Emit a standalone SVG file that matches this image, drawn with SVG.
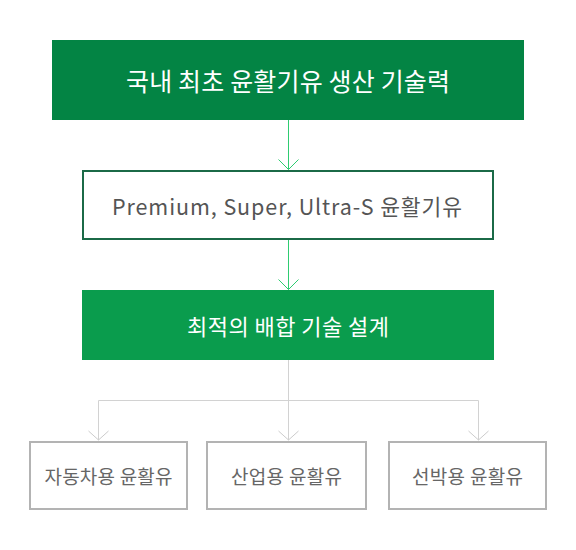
<svg xmlns="http://www.w3.org/2000/svg" width="576" height="550" viewBox="0 0 576 550">
<style>
text{font-family:"Noto Sans CJK KR","Noto Sans",sans-serif;text-anchor:middle;dominant-baseline:central}
.t1{font-size:25px;fill:#ffffff}
.t2{font-size:21.5px;fill:#555555}
.t3{font-size:22px;fill:#ffffff}
.t4{font-size:19px;fill:#666666}
.leaf{fill:#ffffff;stroke:#b3b3b3;stroke-width:2}
.gl{stroke:#2ecc71;stroke-width:1;fill:none}
.gr{stroke:#d2d2d2;stroke-width:1;fill:none}
</style>
<defs>
<marker id="ag" markerWidth="24" markerHeight="24" refX="12" refY="12" orient="auto" markerUnits="userSpaceOnUse" viewBox="0 0 24 24">
<path d="M2,2 L12,12 L2,22" fill="none" stroke="#2ecc71" stroke-width="1"/>
</marker>
<marker id="ar" markerWidth="24" markerHeight="24" refX="12" refY="12" orient="auto" markerUnits="userSpaceOnUse" viewBox="0 0 24 24">
<path d="M3,2 L12,12 L3,22" fill="none" stroke="#cccccc" stroke-width="1"/>
</marker>
</defs>
<rect width="576" height="550" fill="#ffffff"/>
<g id="connectors">
<line class="gl" x1="288.5" y1="120" x2="288.5" y2="169.5" marker-end="url(#ag)"/>
<line class="gl" x1="288.5" y1="240" x2="288.5" y2="289.5" marker-end="url(#ag)"/>
<path class="gr" d="M288.5,360 V400.5"/>
<path class="gr" d="M98.5,400.5 H478.5"/>
<line class="gr" x1="98.5" y1="400.5" x2="98.5" y2="440" marker-end="url(#ar)"/>
<line class="gr" x1="288.5" y1="400.5" x2="288.5" y2="440" marker-end="url(#ar)"/>
<line class="gr" x1="478.5" y1="400.5" x2="478.5" y2="440" marker-end="url(#ar)"/>
</g>
<g id="n1">
<rect x="52" y="40" width="472" height="80" fill="#038444"/>
<text class="t1" x="288" y="80" textLength="324">국내 최초 윤활기유 생산 기술력</text>
</g>
<g id="n2">
<rect x="83" y="171" width="410" height="68" fill="#ffffff" stroke="#1b6a47" stroke-width="2"/>
<text class="t2" x="287" y="205" textLength="350">Premium, Super, Ultra-S 윤활기유</text>
</g>
<g id="n3">
<rect x="82" y="290" width="412" height="70" fill="#0a9c4d"/>
<text class="t3" x="288" y="325" textLength="202">최적의 배합 기술 설계</text>
</g>
<g id="n4">
<rect class="leaf" x="30" y="442" width="157" height="67"/>
<text class="t4" x="108.5" y="475.5" textLength="128">자동차용 윤활유</text>
</g>
<g id="n5">
<rect class="leaf" x="207" y="442" width="159" height="67"/>
<text class="t4" x="286.5" y="475.5" textLength="111">산업용 윤활유</text>
</g>
<g id="n6">
<rect class="leaf" x="389" y="442" width="157" height="67"/>
<text class="t4" x="467.5" y="475.5" textLength="111">선박용 윤활유</text>
</g>
</svg>
